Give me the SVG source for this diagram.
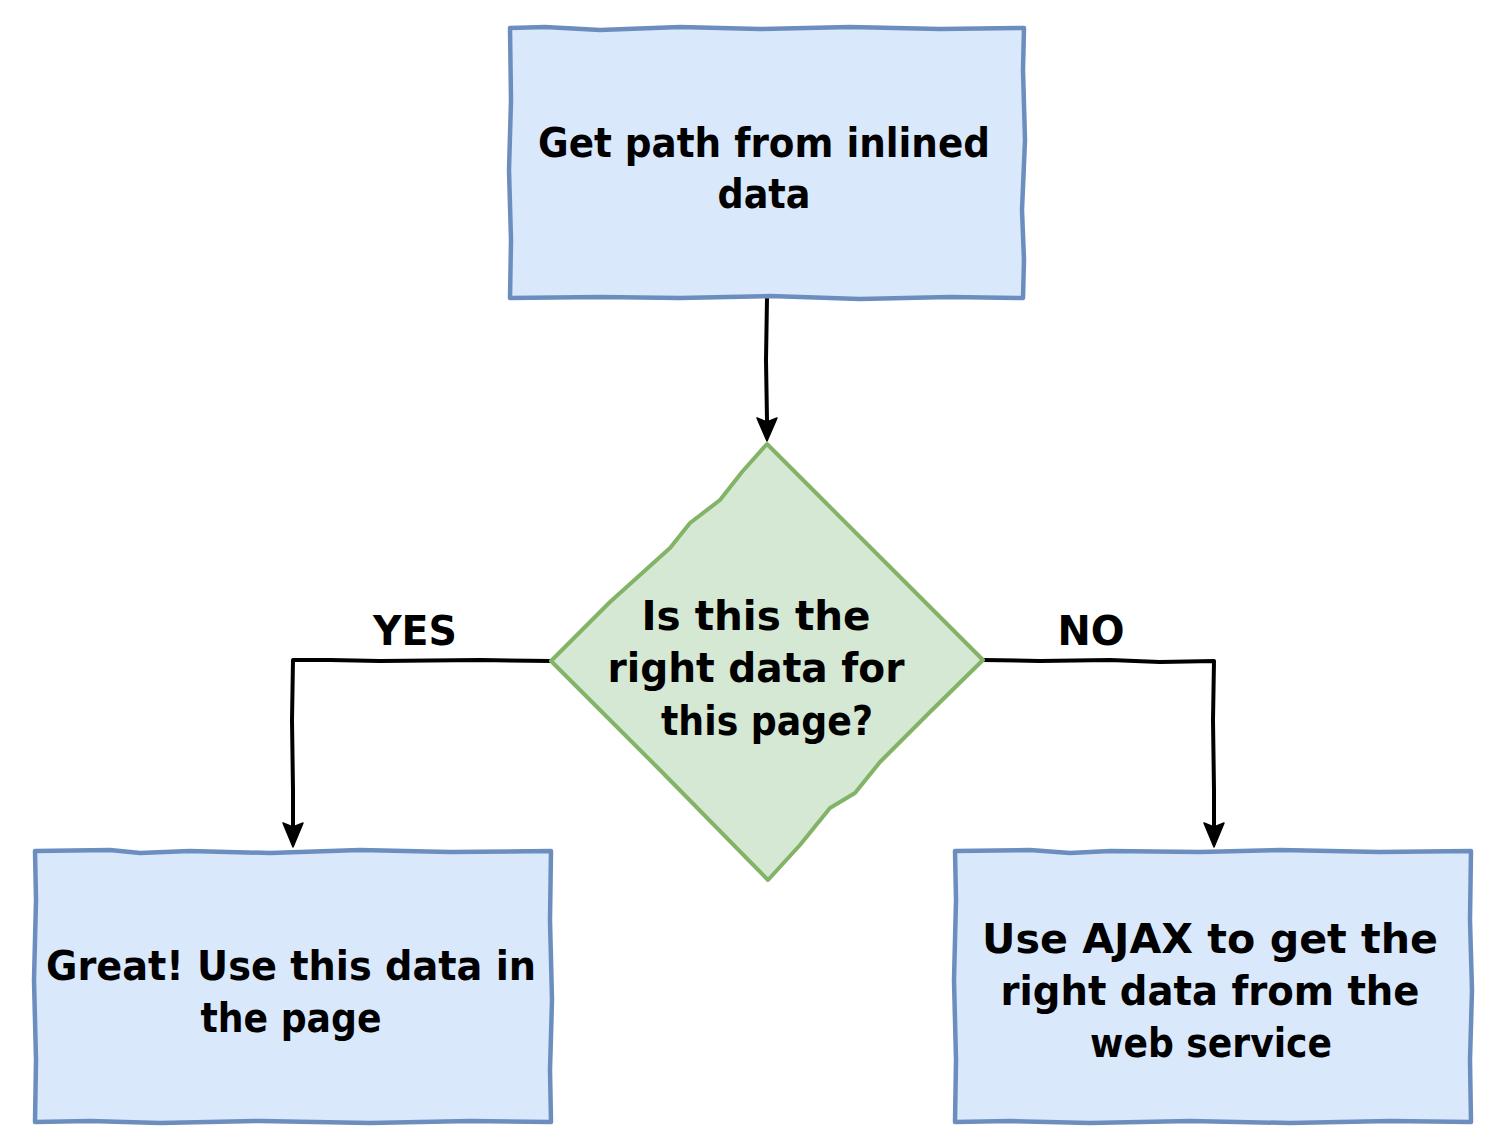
<svg xmlns="http://www.w3.org/2000/svg" width="1500" height="1147" viewBox="0 0 1500 1147">
<style>
.box{fill:#dae8fc;stroke:#6c8ebf;stroke-width:4.5;stroke-linejoin:round}
.dia{fill:#d5e8d4;stroke:#82b366;stroke-width:4;stroke-linejoin:round}
.edge{fill:none;stroke:#000;stroke-width:4;stroke-linejoin:round;stroke-linecap:round}
.head{fill:#000;stroke:#000;stroke-width:1.5;stroke-linejoin:round}
.t{font-family:"DejaVu Sans","Liberation Sans",sans-serif;font-weight:bold;font-size:40px;fill:#000;text-anchor:middle}
</style>
<rect width="1500" height="1147" fill="#fff"/>
<g id="edges">
<path class="edge" d="M767,298 L766,360 L767,420 L767,422"/>
<path class="head" d="M757,418 L767,422 L777,418 L767,441 Z"/>
<path class="edge" d="M551,661 L480,660 L380,661 L330,660 L293,660 L292,720 L293,790 L293,826"/>
<path class="head" d="M283,823 L293,827 L303,823 L293,847 Z"/>
<path class="edge" d="M983,660 L1040,661 L1110,660 L1160,662 L1214,661 L1213,720 L1214,790 L1214,826"/>
<path class="head" d="M1204,823 L1214,827 L1224,823 L1214,847 Z"/>
<text class="t" x="415" y="645" textLength="84" lengthAdjust="spacingAndGlyphs">YES</text>
<text class="t" x="1091" y="645" textLength="67" lengthAdjust="spacingAndGlyphs">NO</text>
</g>
<g id="node-top">
<path class="box" d="M510,28 L545,27 L600,30 L680,27 L760,29 L850,27 L940,29 L1024,28 L1023,70 L1025,140 L1022,210 L1024,260 L1023,298 L950,297 L860,299 L770,296 L680,298 L600,297 L510,298 L511,240 L509,170 L511,100 Z"/>
<text class="t" x="764" y="157" textLength="452" lengthAdjust="spacingAndGlyphs">Get path from inlined</text>
<text class="t" x="764" y="208" textLength="93" lengthAdjust="spacingAndGlyphs">data</text>
</g>
<g id="node-decision">
<path class="dia" d="M767,444 L820,497 L880,557 L983,660 L930,712 L880,762 L855,793 L830,808 L800,845 L768,880 L660,770 L551,661 L610,602 L670,548 L690,523 L720,500 L742,472 Z"/>
<text class="t" x="756" y="630" textLength="229" lengthAdjust="spacingAndGlyphs">Is this the</text>
<text class="t" x="756" y="682" textLength="297" lengthAdjust="spacingAndGlyphs">right data for</text>
<text class="t" x="767" y="735" textLength="212" lengthAdjust="spacingAndGlyphs">this page?</text>
</g>
<g id="node-yes">
<path class="box" d="M35,851 L110,850 L140,853 L190,851 L270,853 L360,850 L450,852 L551,851 L550,920 L552,1000 L550,1070 L551,1122 L470,1121 L370,1123 L260,1121 L160,1123 L90,1121 L35,1122 L36,1060 L34,980 L36,900 Z"/>
<text class="t" x="291" y="980" textLength="490" lengthAdjust="spacingAndGlyphs">Great! Use this data in</text>
<text class="t" x="291" y="1032" textLength="181" lengthAdjust="spacingAndGlyphs">the page</text>
</g>
<g id="node-no">
<path class="box" d="M955,851 L1030,850 L1070,853 L1110,851 L1200,852 L1280,850 L1380,852 L1471,851 L1470,920 L1472,990 L1470,1060 L1471,1122 L1390,1121 L1290,1123 L1190,1121 L1090,1123 L1010,1121 L955,1122 L956,1060 L954,980 L956,900 Z"/>
<text class="t" x="1210" y="953" textLength="456" lengthAdjust="spacingAndGlyphs">Use AJAX to get the</text>
<text class="t" x="1210" y="1005" textLength="419" lengthAdjust="spacingAndGlyphs">right data from the</text>
<text class="t" x="1211" y="1057" textLength="242" lengthAdjust="spacingAndGlyphs">web service</text>
</g>
</svg>
